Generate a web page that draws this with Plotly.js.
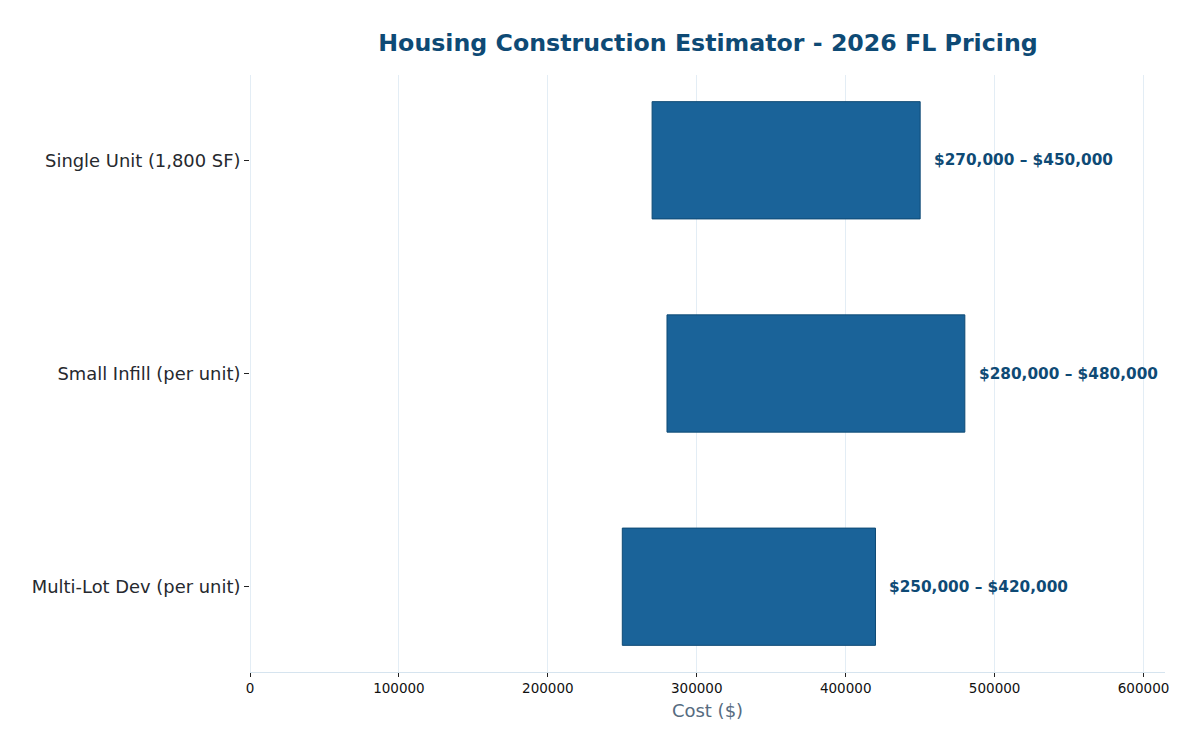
<!DOCTYPE html>
<html>
<head>
<meta charset="utf-8">
<script src="https://cdn.plot.ly/plotly-3.0.1.min.js"></script>
<style>
  html, body { margin: 0; padding: 0; background: #ffffff; }
  #chart { width: 1200px; height: 750px; }
</style>
</head>
<body>
<div id="chart"></div>
<script>
// Estimated construction cost ranges per housing type
const categories = ["Single Unit (1,800 SF)", "Small Infill (per unit)", "Multi-Lot Dev (per unit)"];
const lowCost = [270000, 280000, 250000];
const highCost = [450000, 480000, 420000];
const xTicks = [0, 100000, 200000, 300000, 400000, 500000, 600000];

const fmt = v => "$" + v.toLocaleString("en-US");
const rangeLabels = lowCost.map((lo, i) => fmt(lo) + " \u2013 " + fmt(highCost[i]));

const barTrace = {
  type: "bar",
  orientation: "h",
  y: categories,
  base: lowCost,
  x: highCost.map((hi, i) => hi - lowCost[i]),
  width: 0.55,
  marker: { color: "#1a6399", line: { color: "#0e4a75", width: 1 } },
  hoverinfo: "skip",
  showlegend: false
};

const annotations = categories.map((c, i) => ({
  x: highCost[i],
  y: c,
  xref: "x",
  yref: "y",
  text: "<b>" + rangeLabels[i] + "</b>",
  showarrow: false,
  xanchor: "left",
  xshift: 12,
  font: { family: "DejaVu Sans", size: 15.3, color: "#0e4a75" }
}));

const layout = {
  width: 1200,
  height: 750,
  margin: { l: 250, r: 35, t: 75, b: 78 },
  paper_bgcolor: "#ffffff",
  plot_bgcolor: "#ffffff",
  title: {
    text: "<b>Housing Construction Estimator - 2026 FL Pricing</b>",
    font: { family: "DejaVu Sans", size: 23.7, color: "#0e4a75" },
    x: 0.59,
    xanchor: "center",
    y: 0.943,
    yanchor: "middle"
  },
  xaxis: {
    range: [0, 614400],
    tickvals: xTicks,
    ticktext: xTicks.map(String),
    showgrid: true,
    gridcolor: "#e3edf5",
    gridwidth: 1,
    zeroline: true,
    zerolinecolor: "#e3edf5",
    zerolinewidth: 1,
    showline: true,
    linecolor: "#d6e4ef",
    linewidth: 1,
    ticks: "outside",
    ticklen: 4,
    tickcolor: "#222222",
    tickfont: { family: "DejaVu Sans", size: 13.5, color: "#111111" },
    title: {
      text: "Cost ($)",
      font: { family: "DejaVu Sans", size: 18, color: "#566b80" },
      standoff: 9
    }
  },
  yaxis: {
    type: "category",
    categoryorder: "array",
    categoryarray: categories,
    range: [2.4, -0.4],
    showgrid: false,
    zeroline: false,
    showline: false,
    ticks: "outside",
    ticklen: 5,
    tickcolor: "#222222",
    ticklabelstandoff: 0,
    tickfont: { family: "DejaVu Sans", size: 17.9, color: "#26292e" }
  },
  annotations: annotations,
  bargap: 0
};

Plotly.newPlot("chart", [barTrace], layout, { displayModeBar: false, staticPlot: true });
</script>
</body>
</html>
